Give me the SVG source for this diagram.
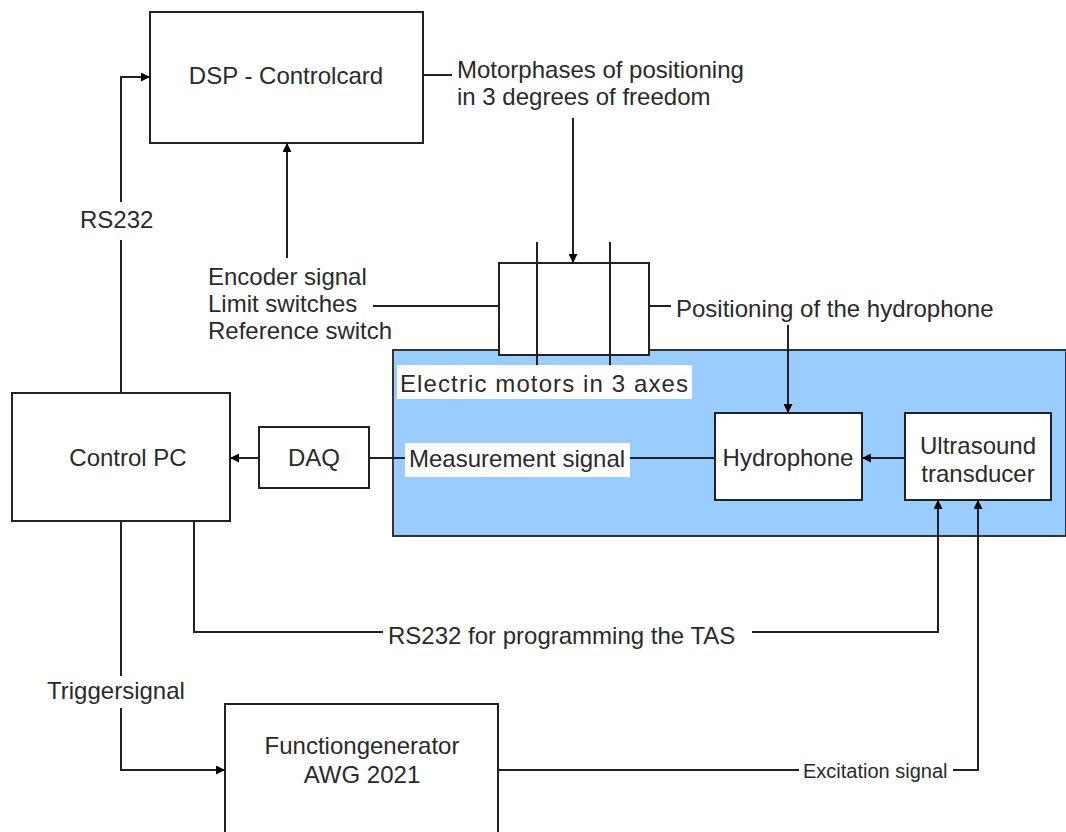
<svg xmlns="http://www.w3.org/2000/svg" width="1066" height="832" viewBox="0 0 1066 832">
<defs>
<marker id="arr" viewBox="0 0 10 10" refX="10" refY="5" markerWidth="9" markerHeight="9" markerUnits="userSpaceOnUse" orient="auto"><path d="M0,0 L10,5 L0,10 z" fill="#000"/></marker>
<style>
text{font-family:"Liberation Sans",Arial,sans-serif;font-size:24px;fill:#2a2a2a}
.box{fill:#fff;stroke:#222;stroke-width:2}
.c{text-anchor:middle}
.ln{fill:none;stroke:#222;stroke-width:2}
.ar{fill:none;stroke:#222;stroke-width:2;marker-end:url(#arr)}
.lbl{fill:#fff}
</style>
</defs>
<rect width="1066" height="832" fill="#fff"/>

<g id="water">
<rect x="393" y="350" width="673" height="186" fill="#99ccff" stroke="#333" stroke-width="2"/>
</g>

<g id="dsp">
<rect class="box" x="150" y="12" width="273" height="131"/>
<text class="c" x="286" y="84">DSP - Controlcard</text>
</g>

<g id="motors">
<rect class="box" x="499" y="263" width="150" height="92"/>
<line class="ln" x1="537" y1="242" x2="537" y2="365"/>
<line class="ln" x1="610" y1="242" x2="610" y2="365"/>
<rect class="lbl" x="397" y="365" width="295" height="34"/>
<text x="400" y="392" textLength="288" lengthAdjust="spacing">Electric motors in 3 axes</text>
</g>

<g id="hydrophone">
<rect class="box" x="715" y="413" width="147" height="87"/>
<text class="c" x="788" y="466">Hydrophone</text>
</g>

<g id="transducer">
<rect class="box" x="905" y="413" width="146" height="87"/>
<text class="c" x="978" y="454">Ultrasound</text>
<text class="c" x="978" y="482">transducer</text>
</g>

<g id="daq">
<rect class="box" x="259" y="427" width="110" height="61"/>
<text class="c" x="314" y="466">DAQ</text>
</g>

<g id="controlpc">
<rect class="box" x="12" y="393" width="218" height="128"/>
<text class="c" x="128" y="466">Control PC</text>
</g>

<g id="funcgen">
<rect class="box" x="225" y="704" width="273" height="140"/>
<text class="c" x="362" y="754">Functiongenerator</text>
<text class="c" x="362" y="783">AWG 2021</text>
</g>

<g id="connectors">
<line class="ln" x1="423" y1="75" x2="452" y2="75"/>
<text x="457" y="78">Motorphases of positioning</text>
<text x="457" y="105">in 3 degrees of freedom</text>
<line class="ar" x1="573" y1="118" x2="573" y2="263"/>

<line class="ar" x1="287" y1="258" x2="287" y2="143"/>
<text x="208" y="285">Encoder signal</text>
<text x="208" y="312">Limit switches</text>
<text x="208" y="339">Reference switch</text>
<line class="ln" x1="373" y1="306" x2="499" y2="306"/>

<line class="ln" x1="649" y1="306" x2="671" y2="306"/>
<text x="676" y="317">Positioning of the hydrophone</text>
<line class="ar" x1="788" y1="325" x2="788" y2="413"/>

<line class="ar" x1="905" y1="458" x2="862" y2="458"/>
<line class="ln" x1="715" y1="458" x2="630" y2="458"/>
<rect class="lbl" x="405" y="443" width="225" height="34"/>
<text x="409" y="467">Measurement signal</text>
<line class="ln" x1="405" y1="458" x2="369" y2="458"/>
<line class="ar" x1="259" y1="458" x2="230" y2="458"/>

<path class="ln" d="M121,393 V240"/>
<path class="ar" d="M121,202 V77 H150"/>
<text x="80" y="228">RS232</text>

<path class="ln" d="M194,521 V632 H383"/>
<text x="388" y="644">RS232 for programming the TAS</text>
<path class="ar" d="M752,632 H938 V500"/>

<path class="ln" d="M121,521 V676"/>
<path class="ar" d="M121,708 V770 H225"/>
<text x="47" y="699">Triggersignal</text>

<path class="ln" d="M498,770 H799"/>
<text x="803" y="778" style="font-size:20px">Excitation signal</text>
<path class="ar" d="M953,770 H978 V500"/>
</g>
</svg>
